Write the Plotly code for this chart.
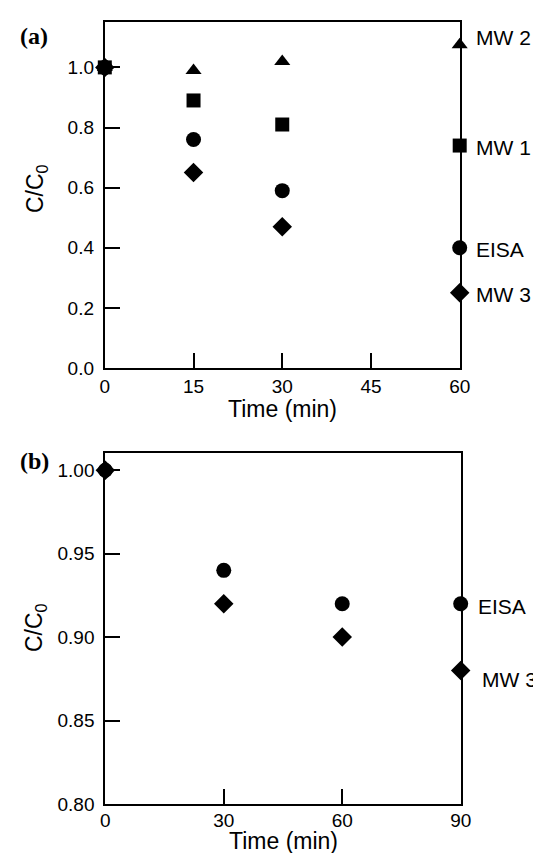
import plotly.graph_objects as go

# ---------------- data ----------------
# Panel (a)
time_a = [0, 15, 30, 60]
mw2_a = [1.0, 0.99, 1.02, 1.075]
mw1_a = [1.0, 0.89, 0.81, 0.74]
eisa_a = [1.0, 0.76, 0.59, 0.40]
mw3_a = [1.0, 0.65, 0.47, 0.25]
xticks_a = [0, 15, 30, 45, 60]
yticks_a = [0.0, 0.2, 0.4, 0.6, 0.8, 1.0]

# Panel (b)
time_b = [0, 30, 60, 90]
eisa_b = [1.0, 0.94, 0.92, 0.92]
mw3_b = [1.0, 0.92, 0.90, 0.88]
xticks_b = [0, 30, 60, 90]
yticks_b = [0.80, 0.85, 0.90, 0.95, 1.00]

# ---------------- styling ----------------
FONT = "Liberation Sans, Arial, sans-serif"
SERIF = "Liberation Serif, Times New Roman, serif"
BLACK = "black"
W, H = 541, 853

fig = go.Figure()

series_a = [
    ("EISA", eisa_a, "circle", 15),
    ("MW 1", mw1_a, "square", 14),
    ("MW 2", mw2_a, "triangle-up", 14),
    ("MW 3", mw3_a, "diamond", 15),
]
for name, ys, sym, sz in series_a:
    fig.add_trace(go.Scatter(
        x=time_a, y=ys, mode="markers", name=name,
        marker=dict(symbol=sym, size=sz, color=BLACK, line=dict(width=0)),
        cliponaxis=False, xaxis="x", yaxis="y", showlegend=False,
    ))

series_b = [
    ("EISA", eisa_b, "circle", 15),
    ("MW 3", mw3_b, "diamond", 15),
]
for name, ys, sym, sz in series_b:
    fig.add_trace(go.Scatter(
        x=time_b, y=ys, mode="markers", name=name,
        marker=dict(symbol=sym, size=sz, color=BLACK, line=dict(width=0)),
        cliponaxis=False, xaxis="x2", yaxis="y2", showlegend=False,
    ))

# end-of-series labels: (xshift, yshift) in px
label_style = {"MW 2": (14, 7), "MW 1": (14, -2), "EISA": (14, -2), "MW 3": (14, -2)}
label_style_b = {"EISA": (15, -3), "MW 3": (19, -9)}

annotations = []
for name, ys, _, _ in series_a:
    xs, ysh = label_style[name]
    annotations.append(dict(
        x=time_a[-1], y=ys[-1], xref="x", yref="y", text=name,
        showarrow=False, xanchor="left", yanchor="middle",
        xshift=xs, yshift=ysh, font=dict(family=FONT, size=21, color=BLACK)))
for name, ys, _, _ in series_b:
    xs, ysh = label_style_b[name]
    annotations.append(dict(
        x=time_b[-1], y=ys[-1], xref="x2", yref="y2", text=name,
        showarrow=False, xanchor="left", yanchor="middle",
        xshift=xs, yshift=ysh, font=dict(family=FONT, size=21, color=BLACK)))


def paper_text(px, py, text, size, family=FONT, angle=0):
    return dict(x=px / W, y=(H - py) / H, xref="paper", yref="paper", text=text,
                textangle=angle, showarrow=False, xanchor="center", yanchor="middle",
                font=dict(family=family, size=size, color=BLACK))


annotations += [
    paper_text(274, 401, "Time (min)", 23),
    paper_text(275, 833, "Time (min)", 23),
    paper_text(28, 181, "C/C<sub>0</sub>", 23, angle=-90),
    paper_text(27, 620, "C/C<sub>0</sub>", 23, angle=-90),
    paper_text(26, 28, "<b>(a)</b>", 24, family=SERIF),
    paper_text(26, 453, "<b>(b)</b>", 24, family=SERIF),
]

axis_common = dict(
    showline=True, linewidth=2, linecolor=BLACK, mirror=True,
    ticks="inside", ticklen=15, tickwidth=2, tickcolor=BLACK,
    showgrid=False, zeroline=False, automargin=False,
    tickfont=dict(family=FONT, size=19, color=BLACK),
)

fig.update_layout(
    width=W, height=H,
    margin=dict(l=0, r=0, t=0, b=0, autoexpand=False),
    paper_bgcolor="white", plot_bgcolor="white",
    showlegend=False,
    xaxis=dict(domain=[96.8 / W, 451.7 / W], range=[0, 60], tickvals=xticks_a,
               anchor="y", ticklabelstandoff=0, **axis_common),
    yaxis=dict(domain=[(H - 360) / H, (H - 14) / H], range=[0, 1.151],
               tickvals=yticks_a, tickformat=".1f", anchor="x",
               ticklabelstandoff=5, **axis_common),
    xaxis2=dict(domain=[97.3 / W, 452.7 / W], range=[0, 90], tickvals=xticks_b,
                anchor="y2", ticklabelstandoff=-2, **axis_common),
    yaxis2=dict(domain=[(H - 796) / H, (H - 445) / H], range=[0.8, 1.0103],
                tickvals=yticks_b, tickformat=".2f", anchor="x2",
                ticklabelstandoff=5, **axis_common),
    annotations=annotations,
)

fig.write_html("out.html")
